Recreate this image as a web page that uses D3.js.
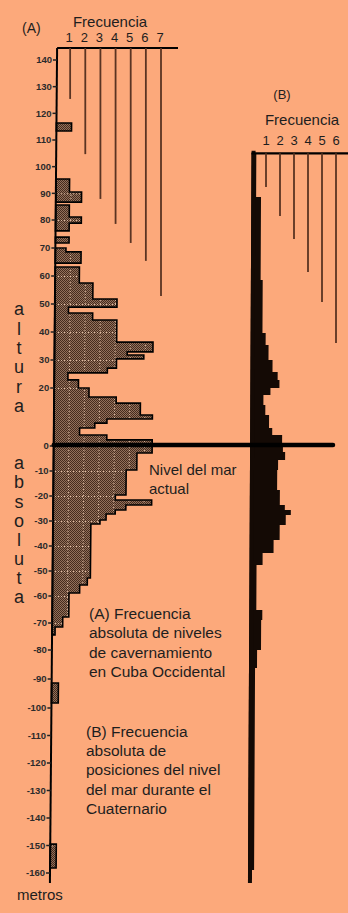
<!DOCTYPE html>
<html><head><meta charset="utf-8">
<script src="https://cdn.jsdelivr.net/npm/d3@7/dist/d3.min.js"></script>
<style>body{margin:0;background:#fca97b}svg{display:block}text{font-family:"Liberation Sans",Arial,sans-serif;fill:#1e1e1e}</style>
</head><body>
<script>
// ---- data (metres, frequency) ----
// Panel A: cave levels in western Cuba, [upper m, lower m, frequency]
const cavesA = [
 [116.4,113.4,1.0],
 [95.4,90.5,0.9],[90.5,86.7,1.7],
 [85.6,81.1,0.9],[81.1,78.9,1.7],[78.9,76.1,0.9],
 [73.9,71.8,0.9],
 [70.0,68.6,0.7],[68.6,64.6,1.7],
 [63.2,57.5,1.6],[57.5,51.8,2.5],[51.8,48.9,4.1],[48.9,46.8,0.9],[46.8,44.3,2.5],
 [44.3,36.4,4.1],[36.4,32.9,6.5],[32.9,31.8,4.8],[31.8,30.4,5.9],[30.4,27.1,4.1],
 [27.1,25.4,3.5],[25.4,22.9,0.9],[22.9,20.0,1.6],[20.0,16.9,2.3],[16.9,14.8,4.1],
 [14.8,10.7,5.7],[10.7,9.3,6.5],[9.3,7.9,3.5],[7.9,6.2,2.7],[6.2,3.8,1.7],
 [3.8,2.1,3.5],[2.1,0,6.5],[0,-2.8,6.5],[-2.8,-9.6,5.5],[-9.6,-19.6,4.8],
 [-19.6,-21.6,4.1],[-21.6,-23.6,6.5],[-23.6,-25.6,4.8],[-25.6,-27.2,4.1],
 [-27.2,-29.6,3.5],[-29.6,-31.2,3.1],[-31.2,-52.8,2.5],[-52.8,-55.6,2.3],
 [-55.6,-58.8,1.8],[-58.8,-67.8,1.1],[-67.8,-71.5,0.7],[-71.5,-74.4,0.2],
 [-91.4,-98.3,0.45],
 [-149.5,-158.2,0.4]
];
// Panel B: sea-level positions during the Quaternary, [upper m, lower m, frequency]
const seaB = [
 [105.1,88.6,0.2],[88.6,58.6,0.55],[58.6,39.6,0.7],[39.6,35.4,0.93],[35.4,30.0,1.14],
 [30.0,25.7,1.43],[25.7,22.9,1.8],[22.9,20.0,1.93],[20.0,17.6,1.29],[17.6,14.1,0.79],
 [14.1,10.7,0.93],[10.7,6.2,1.2],[6.2,3.8,1.43],[3.8,0,2.14],[0,-2.4,2.2],
 [-2.4,-5.6,2.36],[-5.6,-9.6,1.86],[-9.6,-17.6,1.8],[-17.6,-23.6,2.0],
 [-23.6,-25.6,2.36],[-25.6,-27.6,2.79],[-27.6,-31.6,2.43],[-31.6,-37.6,2.0],
 [-37.6,-42.8,1.57],[-42.8,-47.6,0.79],[-47.6,-65.2,0.36],[-65.2,-68.9,0.79],
 [-68.9,-80.0,0.71],[-80.0,-86.2,0.43],[-86.2,-158.9,0.29],[-158.9,-161.8,0.1]
];
const freqTicksA = [1,2,3,4,5,6,7];
const freqLineEndsA = [125.4,104.7,87.9,78.6,71.8,65.4,52.9];
const freqTicksB = [1,2,3,4,5,6];
const freqLineEndsB = [92.4,81.5,73.2,61.4,50.7,36.1];
const altTicks = [140,130,120,110,100,90,80,70,60,50,40,30,20,0,-10,-20,-30,-40,-50,-60,-70,-80,-90,-100,-110,-120,-130,-140,-150,-160];
const sideWordTop = "altura";
const sideWordBottom = "absoluta";
const labelNivel = ["Nivel del mar","actual"];
const legendA = ["(A) Frecuencia","absoluta de niveles","de cavernamiento","en Cuba Occidental"];
const legendB = ["(B) Frecuencia","absoluta de","posiciones del nivel","del mar durante el","Cuaternario"];

// ---- scales ----
const W=348,H=913;
const y = d3.scaleLinear().domain([-160,-100,-80,-60,0,20,80,140]).range([873,708,650,596,446,388,220,60]);
const baseA = d3.scaleLinear().domain([140,-160]).range([57,50]);
const fA = d3.scaleLinear().domain([0,7]).range([55,161]);
const baseB = d3.scaleLinear().domain([140,-160]).range([254,250]);
const fB = d3.scaleLinear().domain([0,6]).range([252,336]);
const topA = 144.5, botA = -163.6, topB = 106, botB = -163.6, lineB = 105;

const svg = d3.select("body").append("svg").attr("width",W).attr("height",H);
svg.append("rect").attr("width",W).attr("height",H).attr("fill","#fca97b");

const defs = svg.append("defs");
const pat = defs.append("pattern").attr("id","stip").attr("width",2).attr("height",2).attr("patternUnits","userSpaceOnUse");
pat.append("rect").attr("width",2).attr("height",2).attr("fill","#93705b");
pat.append("rect").attr("width",1).attr("height",1).attr("fill","#452c1e");
pat.append("rect").attr("x",1).attr("y",1).attr("width",1).attr("height",1).attr("fill","#452c1e");

function groups(segs){
  const out=[]; let cur=[];
  segs.forEach(s=>{ if(cur.length && Math.abs(cur[cur.length-1][1]-s[0])>0.05){out.push(cur);cur=[];} cur.push(s); });
  if(cur.length) out.push(cur); return out;
}
const line = d3.line();
function shape(g, left, right){
  const pts=[[left(g[0][0]), y(g[0][0])]];
  g.forEach(s=>{ pts.push([right(s[0],s[2]), y(s[0])]); pts.push([right(s[1],s[2]), y(s[1])]); });
  pts.push([left(g[g.length-1][1]), y(g[g.length-1][1])]);
  return line(pts)+"Z";
}
const rightA = (v,f)=> baseA(v) + fA(f) - fA(0);
const pathsA = groups(cavesA).map(g=>shape(g, v=>baseA(v), rightA));
const clip = defs.append("clipPath").attr("id","clipA");
pathsA.forEach(d=>clip.append("path").attr("d",d));

// panel A bars
const gA = svg.append("g");
gA.selectAll("path.bar").data(pathsA).join("path").attr("class","bar").attr("d",d=>d)
  .attr("fill","url(#stip)");
// faint dotted grid inside bars
const gGrid = gA.append("g").attr("clip-path","url(#clipA)");
d3.range(1,7).forEach(k=>{
  gGrid.append("line").attr("x1",rightA(140,k)).attr("x2",rightA(-160,k)).attr("y1",y(140)).attr("y2",y(-160))
   .attr("stroke","#d9b8a0").attr("stroke-width",1).attr("stroke-dasharray","1,2");
});
altTicks.forEach(v=>{
  gGrid.append("line").attr("x1",40).attr("x2",200).attr("y1",y(v)+0.5).attr("y2",y(v)+0.5)
   .attr("stroke","#d9b8a0").attr("stroke-width",1).attr("stroke-dasharray","1,2");
});
gA.selectAll("path.out").data(pathsA).join("path").attr("class","out").attr("d",d=>d)
  .attr("fill","none").attr("stroke","#000").attr("stroke-width",1.6).attr("stroke-linejoin","miter");

// panel A axis & frequency header
svg.append("line").attr("x1",baseA(topA)).attr("y1",y(topA)).attr("x2",baseA(botA)).attr("y2",y(botA))
  .attr("stroke","#000").attr("stroke-width",2);
svg.append("line").attr("x1",baseA(topA)).attr("y1",y(topA)).attr("x2",178).attr("y2",y(topA))
  .attr("stroke","#000").attr("stroke-width",2);
svg.selectAll("line.fa").data(freqTicksA).join("line").attr("class","fa")
  .attr("x1",d=>fA(d)).attr("x2",d=>fA(d)).attr("y1",y(topA)).attr("y2",(d,i)=>y(freqLineEndsA[i]))
  .attr("stroke","#5a3422").attr("stroke-width",1.8);
svg.selectAll("text.fa").data(freqTicksA).join("text").attr("class","fa")
  .attr("x",d=>fA(d)-1).attr("y",42).attr("text-anchor","middle").attr("font-size",13).text(d=>d);
svg.append("text").attr("x",110).attr("y",27).attr("text-anchor","middle").attr("font-size",15).text("Frecuencia");
svg.append("text").attr("x",22).attr("y",33).attr("font-size",14).text("(A)");

// altitude ticks
const gT = svg.append("g");
altTicks.forEach(v=>{
  const bx = baseA(v);
  gT.append("line").attr("x1",bx-4).attr("x2",bx).attr("y1",y(v)).attr("y2",y(v)).attr("stroke","#222").attr("stroke-width",1.5);
  gT.append("text").attr("x",bx-5).attr("y",y(v)).attr("dy","0.35em").attr("text-anchor","end")
    .attr("font-size",9.5).attr("font-weight","bold").style("fill","#2b2b2b").text(v);
});
svg.append("text").attr("x",17).attr("y",900).attr("font-size",15).text("metros");
sideWordTop.split("").forEach((c,i)=>{
  svg.append("text").attr("x",19).attr("y",309+i*19.3).attr("dy","0.35em").attr("text-anchor","middle").attr("font-size",18).text(c);
});
sideWordBottom.split("").forEach((c,i)=>{
  svg.append("text").attr("x",19).attr("y",463+i*19.1).attr("dy","0.35em").attr("text-anchor","middle").attr("font-size",18).text(c);
});

// panel B
const pathsB = groups(seaB).map(g=>shape(g, v=>baseB(v)-2, (v,f)=> baseB(v) + fB(f) - fB(0)));
svg.selectAll("path.b").data(pathsB).join("path").attr("class","b").attr("d",d=>d).attr("fill","#140a05");
svg.append("line").attr("x1",baseB(topB)).attr("y1",y(topB)).attr("x2",baseB(botB)).attr("y2",y(botB))
  .attr("stroke","#140a05").attr("stroke-width",4);
svg.append("line").attr("x1",baseB(lineB)-2).attr("y1",y(lineB)).attr("x2",348).attr("y2",y(lineB))
  .attr("stroke","#000").attr("stroke-width",2.2);
svg.selectAll("line.fb").data(freqTicksB).join("line").attr("class","fb")
  .attr("x1",d=>fB(d)).attr("x2",d=>fB(d)).attr("y1",y(lineB)).attr("y2",(d,i)=>y(freqLineEndsB[i]))
  .attr("stroke","#5a3422").attr("stroke-width",1.8);
svg.selectAll("text.fb").data(freqTicksB).join("text").attr("class","fb")
  .attr("x",d=>fB(d)).attr("y",145).attr("text-anchor","middle").attr("font-size",13).text(d=>d);
svg.append("text").attr("x",302).attr("y",125).attr("text-anchor","middle").attr("font-size",15).text("Frecuencia");
svg.append("text").attr("x",282).attr("y",99).attr("text-anchor","middle").attr("font-size",13).text("(B)");

// present sea level
svg.append("line").attr("x1",baseA(0)).attr("x2",333).attr("y1",y(0)-1).attr("y2",y(0)-1)
  .attr("stroke","#000").attr("stroke-width",4.5).attr("stroke-linecap","round");
labelNivel.forEach((t,i)=> svg.append("text").attr("x",149).attr("y",475+i*18.5).attr("font-size",15).text(t));
legendA.forEach((t,i)=> svg.append("text").attr("x",89).attr("y",619+i*19.3).attr("font-size",15.5).text(t));
legendB.forEach((t,i)=> svg.append("text").attr("x",86).attr("y",737+i*19.2).attr("font-size",15.5).text(t));
</script>
</body></html>
